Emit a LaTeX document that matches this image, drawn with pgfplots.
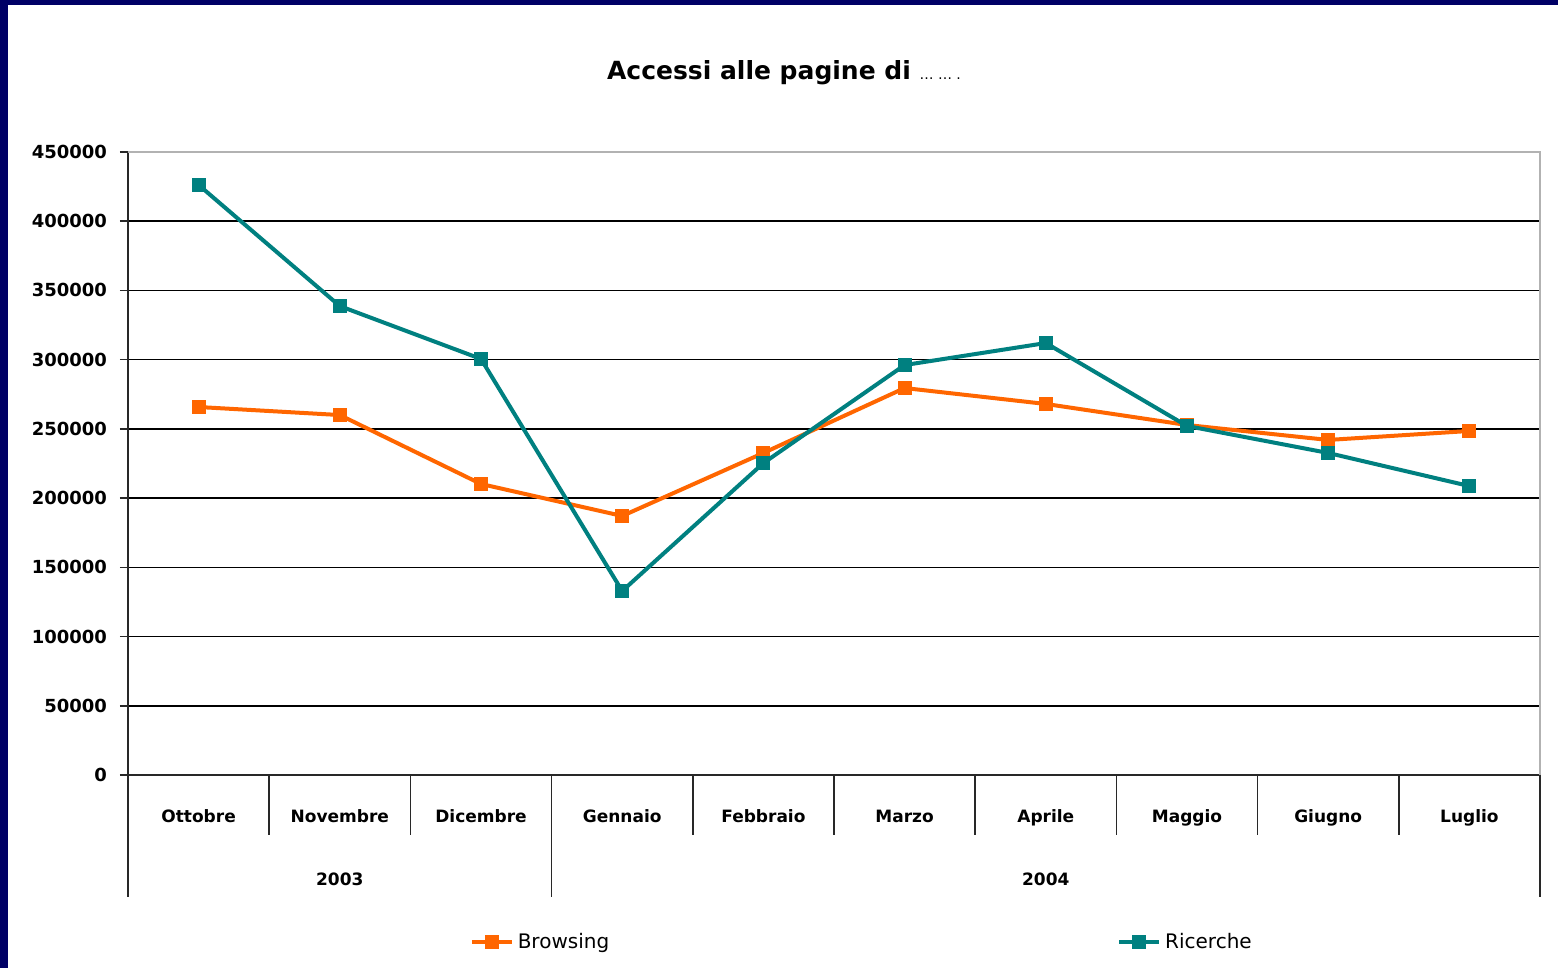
\documentclass[border=0pt]{standalone}
\usepackage{fontspec}
\setmainfont{DejaVu Sans}
\usepackage{pgfplots}
\pgfplotsset{compat=1.18}
\definecolor{navyb}{RGB}{0,0,102}
\definecolor{orng}{RGB}{255,102,0}
\definecolor{tealc}{RGB}{0,128,128}
\definecolor{sepc}{RGB}{40,40,40}
\begin{document}
\begin{tikzpicture}
\useasboundingbox (0,0) rectangle (779pt,484pt);
\fill[navyb] (0,0) rectangle (779pt,484pt);
\fill[white] (4pt,0) rectangle (779pt,481.5pt);
\node[font=\bfseries\fontsize{12.5}{14}\selectfont] at (392pt,447.5pt) {Accessi alle pagine di {\mdseries\fontsize{7}{8}\selectfont … … .}};
\begin{axis}[
  at={(64pt,96.5pt)}, anchor=south west, scale only axis,
  width=706pt, height=311.5pt,
  xmin=-0.5, xmax=9.5, ymin=0, ymax=450000,
  ytick={0,50000,...,450000},
  xtick={0,...,9},
  xticklabels={Ottobre,Novembre,Dicembre,Gennaio,Febbraio,Marzo,Aprile,Maggio,Giugno,Luglio},
  xtick style={draw=none},
  ytick style={sepc, line width=0.75pt},
  tick align=outside, major tick length=4pt,
  axis lines*=left,
  axis line style={sepc, line width=0.75pt},
  ymajorgrids, grid style={black, line width=0.75pt},
  clip=false,
  scaled y ticks=false,
  /pgf/number format/fixed,
  /pgf/number format/precision=0,
  /pgf/number format/1000 sep={},
  /pgf/number format/assume math mode=true,
  yticklabel style={font=\bfseries\fontsize{9}{10}\selectfont, xshift=-3pt},
  xticklabel style={anchor=base, yshift=-20pt, font=\bfseries\fontsize{8.5}{10}\selectfont},
  legend columns=2,
  legend image code/.code={\draw[mark repeat=2,mark phase=2] plot coordinates {(0pt,0pt) (10pt,0pt) (20pt,0pt)};},
  legend style={at={(axis description cs:0.2375,-0.268)}, anchor=west, draw=none, fill=none,
    font=\fontsize{10}{12}\selectfont,
    /tikz/every even column/.append style={column sep=252pt}},
]
\draw[gray!60, line width=1pt] (axis cs:-0.5,450000) -- (axis cs:9.5,450000) -- (axis cs:9.5,0);
\pgfplotsinvokeforeach{0.5,1.5,3.5,4.5,5.5,6.5,7.5,8.5}{\draw[sepc, line width=0.75pt] (axis cs:#1,0) -- ([yshift=-30pt]axis cs:#1,0);}
\pgfplotsinvokeforeach{-0.5,2.5,9.5}{\draw[sepc, line width=0.75pt] (axis cs:#1,0) -- ([yshift=-61pt]axis cs:#1,0);}
\node[font=\bfseries\fontsize{8.5}{10}\selectfont, yshift=-52pt] at (axis cs:1,0) {2003};
\node[font=\bfseries\fontsize{8.5}{10}\selectfont, yshift=-52pt] at (axis cs:6,0) {2004};
\addplot[orng, line width=2pt, mark=square*, mark size=2.5pt, mark options={solid}] coordinates {
 (0,265800) (1,260000) (2,210200) (3,187100) (4,232600) (5,279500) (6,268000) (7,252800) (8,242000) (9,248500)};
\addlegendentry{Browsing}
\addplot[tealc, line width=2pt, mark=square*, mark size=2.5pt, mark options={solid}] coordinates {
 (0,426200) (1,338700) (2,300500) (3,132900) (4,225300) (5,296100) (6,312000) (7,252100) (8,232600) (9,208700)};
\addlegendentry{Ricerche}
\end{axis}
\end{tikzpicture}
\end{document}
